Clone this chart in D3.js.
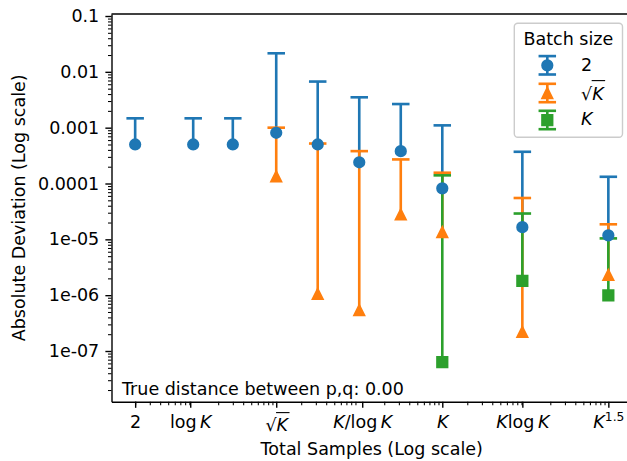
<!DOCTYPE html>
<html>
<head>
<meta charset="utf-8">
<script src="https://cdn.jsdelivr.net/npm/d3@7"></script>
<style>
  body { margin: 0; background: #fff; }
  svg { display: block; overflow: hidden; }
  text { font-family: "DejaVu Sans", sans-serif; fill: #000; white-space: pre; }
</style>
</head>
<body>
<svg id="chart" width="627" height="461"></svg>
<script>
// ---- data -------------------------------------------------------------
const K = 10000;

// batch size 2
const samples2 = [2, 10, 30, 100, 316, 1000, 3162, 10000, 92103, 1000000];
const dev2     = [5.0e-4, 5.0e-4, 5.0e-4, 8.1e-4, 5.0e-4, 2.4e-4, 3.8e-4, 8.2e-5, 1.65e-5, 1.18e-5];
const upper2   = [1.47e-3, 1.47e-3, 1.47e-3, 2.15e-2, 6.7e-3, 3.5e-3, 2.65e-3, 1.1e-3, 3.7e-4, 1.32e-4];

// batch size sqrt(K)
const samplesSqrt = [100, 316, 1000, 3162, 10000, 92103, 1000000];
const devSqrt     = [1.34e-4, 1.05e-6, 5.4e-7, 2.8e-5, 1.35e-5, 2.2e-7, 2.3e-6];
const upperSqrt   = [1.0e-3, 5.2e-4, 3.8e-4, 2.7e-4, 1.56e-4, 5.5e-5, 1.86e-5];

// batch size K
const samplesK = [10000, 92103, 1000000];
const devK     = [6.3e-8, 1.8e-6, 9.9e-7];
const upperK   = [1.4e-4, 2.9e-5, 1.04e-5];

// labels (markup: <i> italic, <sup> superscript, <oi> italic under a radical bar)
const seriesLabels = ["2", "\u221A<oi>K</oi>", "<i>K</i>"];
const seriesColors = ["#1f77b4", "#ff7f0e", "#2ca02c"];
const seriesMarkers = ["circle", "triangle", "square"];

const xTickValues = [2, Math.log(K), Math.sqrt(K), K / Math.log(K), K, K * Math.log(K), Math.pow(K, 1.5)];
const xTickLabels = ["2", "log\u2009<i>K</i>", "\u221A<oi>K</oi>", "<i>K</i>/log\u2009<i>K</i>", "<i>K</i>",
                     "<i>K</i>log\u2009<i>K</i>", "<i>K</i><sup>1.5</sup>"];
const yTickValues = [1e-1, 1e-2, 1e-3, 1e-4, 1e-5, 1e-6, 1e-7];
const yTickLabels = ["0.1", "0.01", "0.001", "0.0001", "1e-05", "1e-06", "1e-07"];

const legendTitle = "Batch size";
const xLabel = "Total Samples (Log scale)";
const yLabel = "Absolute Deviation (Log scale)";
const note = "True distance between p,q: 0.00";

// ---- layout -----------------------------------------------------------
const FS = 17.5;                 // base font size
const PT = 1.75;                 // px per point
const plot = { left: 111.5, top: 14, right: 632, bottom: 401.7 };

const series = [
  { x: samples2, y: dev2, hi: upper2 },
  { x: samplesSqrt, y: devSqrt, hi: upperSqrt },
  { x: samplesK, y: devK, hi: upperK }
].map((s, i) => ({ ...s, color: seriesColors[i], marker: seriesMarkers[i], label: seriesLabels[i] }));

// x: log axis with 5% padding around the data (in log space)
const allX = series.flatMap(s => s.x);
const lx0 = Math.log10(d3.min(allX)), lx1 = Math.log10(d3.max(allX));
const padX = (lx1 - lx0) * 0.05;
const x = d3.scaleLog().domain([10 ** (lx0 - padX), 10 ** (lx1 + padX)]).range([plot.left, plot.right]);
const y = d3.scaleLog().domain([10 ** -7.908, 10 ** -0.964]).range([plot.bottom, plot.top]);

const svg = d3.select("#chart");

// ---- rich text helper --------------------------------------------------
function richText(sel, markup) {
  sel.text(null);
  const re = /<(i|sup|oi)>(.*?)<\/\1>/g;
  let last = 0, m, idx = 0;
  const bars = [];
  const add = (str, tag) => {
    const ts = sel.append("tspan").text(str);
    if (tag === "i" || tag === "oi") ts.attr("font-style", "italic");
    if (tag === "sup") ts.attr("font-size", (FS * 0.7) + "px").attr("dy", -6.5);
    if (tag === "oi") bars.push([idx, idx + str.length]);
    idx += str.length;
  };
  while ((m = re.exec(markup))) {
    if (m.index > last) add(markup.slice(last, m.index));
    add(m[2], m[1]);
    last = re.lastIndex;
  }
  if (last < markup.length) add(markup.slice(last));
  // radical bar over the <oi> run
  const node = sel.node();
  const parent = d3.select(node.parentNode);
  bars.forEach(([a, b]) => {
    const s = node.getStartPositionOfChar(a);
    const e = node.getEndPositionOfChar(b - 1);
    const yy = s.y - 1.08 * FS;
    parent.append("line")
      .attr("x1", s.x - 0.5).attr("x2", e.x + 1.5)
      .attr("y1", yy).attr("y2", yy)
      .attr("stroke", "#000").attr("stroke-width", 1.1);
  });
}

// ---- markers ---------------------------------------------------------
const MS = 6 * PT; // marker size
function markerPath(kind) {
  const h = MS / 2;
  if (kind === "circle") return d3.symbol(d3.symbolCircle, Math.PI * h * h)();
  if (kind === "triangle") return `M0,${-h}L${-h},${h}L${h},${h}Z`;
  return `M${-h},${-h}H${h}V${h}H${-h}Z`;
}

// ---- axes ------------------------------------------------------------
const gx = svg.append("g").attr("transform", `translate(0,${plot.bottom})`);
// minor ticks
const minorX = [];
for (let e = -1; e <= 7; e++) for (let k = 2; k <= 9; k++) {
  const v = k * 10 ** e;
  if (v >= x.domain()[0] && v <= x.domain()[1]) minorX.push(v);
}
gx.append("g").call(d3.axisBottom(x).tickValues(minorX).tickSize(2 * PT).tickSizeOuter(0).tickFormat(""))
  .call(g => g.select(".domain").remove())
  .call(g => g.selectAll(".tick line").attr("stroke-width", 0.6 * PT));
gx.append("g").call(d3.axisBottom(x).tickValues(xTickValues).tickSize(3.5 * PT).tickSizeOuter(0).tickFormat(""))
  .call(g => g.select(".domain").attr("stroke-width", 0.8 * PT))
  .call(g => g.selectAll(".tick line").attr("stroke-width", 0.8 * PT))
  .call(g => g.selectAll(".tick").each(function (d, i) {
    const label = xTickLabels[i];
    // labels with a radical bar are taller, so their baseline sits lower
    const t = d3.select(this).append("text").attr("text-anchor", "middle").attr("font-size", FS + "px")
      .attr("y", label.includes("<oi>") ? 29.8 : 26);
    richText(t, label);
  }));

const gy = svg.append("g").attr("transform", `translate(${plot.left},0)`);
const minorY = [];
for (let e = -9; e <= 0; e++) for (let k = 2; k <= 9; k++) {
  const v = k * 10 ** e;
  if (v >= y.domain()[0] && v <= y.domain()[1]) minorY.push(v);
}
gy.append("g").call(d3.axisLeft(y).tickValues(minorY).tickSize(2 * PT).tickSizeOuter(0).tickFormat(""))
  .call(g => g.select(".domain").remove())
  .call(g => g.selectAll(".tick line").attr("stroke-width", 0.6 * PT));
gy.append("g").call(d3.axisLeft(y).tickValues(yTickValues).tickSize(3.5 * PT).tickSizeOuter(0).tickPadding(3.5 * PT)
    .tickFormat((d, i) => yTickLabels[i]))
  .call(g => g.select(".domain").attr("stroke-width", 0.8 * PT))
  .call(g => g.selectAll(".tick line").attr("stroke-width", 0.8 * PT))
  .call(g => g.selectAll(".tick text").attr("font-size", FS + "px").attr("font-family", "DejaVu Sans").attr("fill", "#000"));

// top spine
svg.append("line")
  .attr("x1", x.range()[0]).attr("x2", x.range()[1])
  .attr("y1", y.range()[1]).attr("y2", y.range()[1])
  .attr("stroke", "#000").attr("stroke-width", 0.8 * PT);

// axis titles
svg.append("text").attr("x", (plot.left + plot.right) / 2).attr("y", 455)
  .attr("text-anchor", "middle").attr("font-size", FS + "px").text(xLabel);
svg.append("text").attr("transform", `translate(25,${(plot.top + plot.bottom) / 2}) rotate(-90)`)
  .attr("text-anchor", "middle").attr("font-size", FS + "px").text(yLabel);

// ---- error bars and markers ------------------------------------------
const LW = 1.5 * PT, CAP = 5 * PT;
const bars = svg.append("g");
series.forEach(s => {
  const g = bars.append("g");
  g.selectAll("line.bar").data(s.x).join("line").attr("class", "bar")
    .attr("x1", d => x(d)).attr("x2", d => x(d))
    .attr("y1", (d, i) => y(s.y[i])).attr("y2", (d, i) => y(s.hi[i]))
    .attr("stroke", s.color).attr("stroke-width", LW);
  g.selectAll("line.cap").data(s.x).join("line").attr("class", "cap")
    .attr("x1", d => x(d) - CAP).attr("x2", d => x(d) + CAP)
    .attr("y1", (d, i) => y(s.hi[i])).attr("y2", (d, i) => y(s.hi[i]))
    .attr("stroke", s.color).attr("stroke-width", LW);
});
const marks = svg.append("g");
series.forEach(s => {
  marks.append("g").selectAll("path").data(s.x).join("path")
    .attr("transform", (d, i) => `translate(${x(d)},${y(s.y[i])})`)
    .attr("d", markerPath(s.marker))
    .attr("fill", s.color).attr("stroke", s.color).attr("stroke-width", PT);
});

// annotation
svg.append("text").attr("x", 122).attr("y", 394.5).attr("font-size", FS + "px").text(note);

// ---- legend ----------------------------------------------------------
const lg = svg.append("g");
lg.append("rect").attr("x", 514.3).attr("y", 23.3).attr("width", 108.2).attr("height", 114)
  .attr("rx", 3.5).attr("fill", "#fff").attr("fill-opacity", 0.8)
  .attr("stroke", "#cccccc").attr("stroke-width", 1.4);
lg.append("text").attr("x", 568.4).attr("y", 45).attr("text-anchor", "middle")
  .attr("font-size", FS + "px").text(legendTitle);
const rowCY = [65.3, 93, 120];
const rowBase = [71.2, 99.5, 125];
const hx = 547.3, half = 9.2;
series.forEach((s, i) => {
  const g = lg.append("g");
  g.append("line").attr("x1", hx).attr("x2", hx).attr("y1", rowCY[i] - half).attr("y2", rowCY[i] + half)
    .attr("stroke", s.color).attr("stroke-width", LW);
  [-half, half].forEach(o => g.append("line")
    .attr("x1", hx - CAP).attr("x2", hx + CAP).attr("y1", rowCY[i] + o).attr("y2", rowCY[i] + o)
    .attr("stroke", s.color).attr("stroke-width", LW));
  g.append("path").attr("transform", `translate(${hx},${rowCY[i]})`).attr("d", markerPath(s.marker))
    .attr("fill", s.color).attr("stroke", s.color).attr("stroke-width", PT);
  const t = g.append("text").attr("x", 581).attr("y", rowBase[i]).attr("font-size", FS + "px");
  richText(t, s.label);
});
</script>
</body>
</html>
